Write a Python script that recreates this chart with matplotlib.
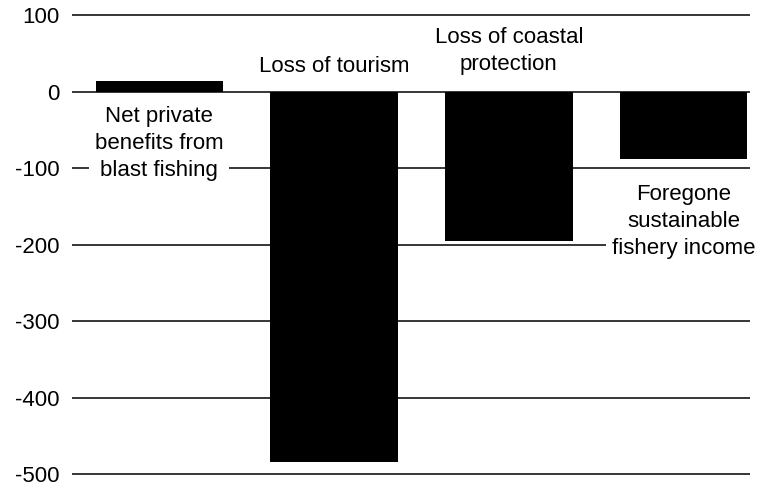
import matplotlib
matplotlib.use("Agg")
import matplotlib.pyplot as plt

# values (US$ 1000 per km2, roughly)
labels = ["Net private\nbenefits from\nblast fishing",
          "Loss of tourism",
          "Loss of coastal\nprotection",
          "Foregone\nsustainable\nfishery income"]
values = [14, -484, -195, -88]
label_y = [-68, 33, 53, -170]
yticks = [100, 0, -100, -200, -300, -400, -500]

plt.rcParams['font.family'] = ['Liberation Sans', 'DejaVu Sans']
plt.rcParams['font.size'] = 16

fig = plt.figure(figsize=(7.7, 4.92), dpi=100)
ax = fig.add_axes([0.0935, 0.021, 0.8805, 0.964])

x = range(len(values))
ax.bar(x, values, width=0.73, color='black', zorder=3)

for yt in yticks:
    ax.axhline(yt, color='black', lw=1.1, zorder=1)

for xi, lab, ly in zip(x, labels, label_y):
    ax.text(xi, ly, lab, ha='center', va='center', zorder=2,
            linespacing=1.4,
            bbox=dict(boxstyle='square,pad=0.25', fc='white', ec='none'))

ax.set_xlim(-0.5, 3.38)
ax.set_ylim(-510, 110)
ax.set_yticks(yticks)
ax.set_yticklabels([str(v) for v in yticks])
ax.tick_params(axis='y', length=0, pad=9)
ax.set_xticks([])
for s in ax.spines.values():
    s.set_visible(False)

fig.savefig("out.png", dpi=100)
